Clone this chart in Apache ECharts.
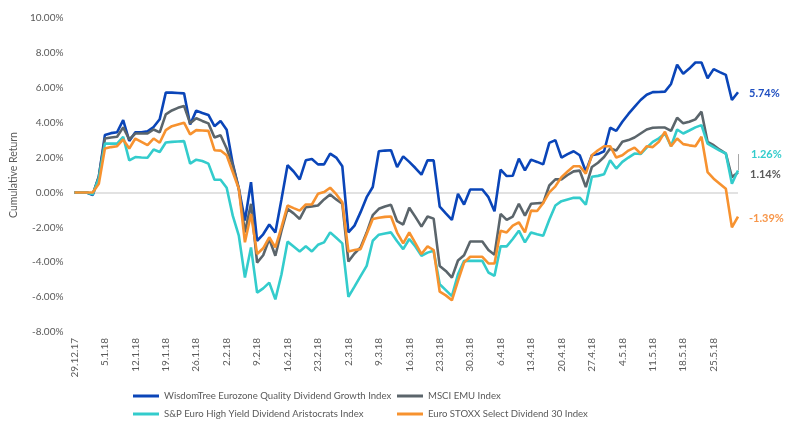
<!DOCTYPE html>
<html>
<head>
<meta charset="utf-8">
<script src="https://cdn.jsdelivr.net/npm/echarts@6/dist/echarts.min.js"></script>
<style>
  html, body { margin: 0; padding: 0; background: #fff; }
  #chart { width: 796px; height: 428px; }
</style>
</head>
<body>
<div id="chart"></div>
<script>
// business days 29.12.17 .. 31.5.18
var categories = [];
for (var d = new Date(2017, 11, 29); categories.length < 110; d.setDate(d.getDate() + 1)) {
  var wd = d.getDay();
  if (wd === 0 || wd === 6) continue;
  categories.push(d.getDate() + '.' + (d.getMonth() + 1) + '.' + String(d.getFullYear()).slice(2));
}

var wisdomTree = [
  0, 0, 0, -0.15, 0.9, 3.3, 3.4, 3.45, 4.15, 2.95,
  3.45, 3.45, 3.5, 3.75, 4.2, 5.72, 5.72, 5.7, 5.68, 3.9,
  4.69, 4.55, 4.44, 3.8, 4.09, 3.6, 1.65, 0.21, -1.61, 0.59,
  -2.77, -2.4, -1.84, -2.29, -0.4, 1.56, 1.2, 0.75, 1.84, 1.92,
  1.61, 1.61, 2.23, 2.0, 1.5, -2.29, -1.9, -1.13, -0.27, 0.31,
  2.36, 2.4, 2.42, 1.45, 2.07, 1.75, 1.4, 1.02, 1.84, 1.84,
  -0.81, -1.2, -1.57, -0.08, -0.69, 0.17, 0.17, 0.17, -0.27, -1.08,
  1.31, 0.94, 0.96, 1.94, 1.27, 1.88, 1.75, 1.61, 2.84, 3.0,
  2.0, 2.2, 2.36, 2.13, 1.2, 2.13, 2.2, 2.36, 3.71, 3.53,
  4.05, 4.5, 4.9, 5.3, 5.6, 5.75, 5.76, 5.78, 6.22, 7.32,
  6.8, 7.1, 7.45, 7.45, 6.55, 7.07, 6.9, 6.74, 5.3, 5.74
];
var msciEmu = [
  0, 0, 0, -0.1, 0.9, 3.09, 3.15, 3.19, 3.73, 3.04,
  3.38, 3.38, 3.38, 3.61, 3.44, 4.48, 4.7, 4.85, 4.96, 3.96,
  4.25, 4.1, 3.96, 3.15, 3.28, 2.52, 1.56, 0.21, -2.29, -0.65,
  -4.02, -3.6, -2.67, -3.63, -2.2, -0.94, -1.2, -1.52, -0.85, -0.8,
  -0.75, -0.4, -0.12, -0.4, -0.65, -3.96, -3.5, -3.15, -2.3, -1.3,
  -0.94, -0.81, -0.71, -1.65, -1.84, -0.88, -1.4, -1.96, -1.38, -1.5,
  -4.21, -4.5, -4.88, -3.9, -3.6, -2.81, -2.81, -2.81, -3.3, -3.57,
  -1.23, -1.57, -1.38, -0.65, -1.33, -0.65, -0.62, -0.6, 0.4, 0.75,
  0.75, 1.0, 1.21, 1.25, 0.31, 1.46, 1.7, 2.03, 2.52, 2.4,
  2.9, 3.0, 3.15, 3.38, 3.61, 3.71, 3.72, 3.72, 3.53, 4.28,
  3.96, 4.05, 4.19, 4.63, 2.9, 2.71, 2.45, 2.23, 0.88, 1.14
];
var spAristocrats = [
  0, 0, 0, -0.1, 0.8, 2.8, 2.8, 2.8, 3.19, 1.84,
  2.03, 2.0, 1.99, 2.46, 2.32, 2.86, 2.9, 2.92, 2.94, 1.65,
  1.88, 1.8, 1.65, 0.73, 0.73, 0.27, -1.33, -2.48, -4.88, -3.15,
  -5.74, -5.5, -5.17, -6.13, -4.7, -2.82, -3.1, -3.38, -3.09, -3.38,
  -3.0, -2.86, -2.29, -2.6, -2.92, -5.99, -5.4, -4.8, -4.21, -2.77,
  -2.42, -2.35, -2.29, -2.8, -3.25, -2.67, -3.1, -3.63, -3.45, -3.34,
  -5.26, -5.6, -5.94, -4.69, -3.92, -3.92, -3.92, -3.92, -4.59, -4.78,
  -3.09, -3.09, -2.67, -2.19, -2.86, -2.29, -2.4, -2.48, -1.57, -0.75,
  -0.5, -0.4, -0.31, -0.3, -0.7, 0.9, 0.95, 1.04, 1.84, 1.37,
  1.75, 2.0, 2.23, 2.2, 2.57, 2.9, 3.1, 3.38, 2.65, 3.61,
  3.38, 3.55, 3.73, 3.86, 2.8, 2.6, 2.4, 2.23, 0.5, 1.26
];
var euroStoxx = [
  0, 0, 0, 0, 0.5, 2.52, 2.6, 2.65, 3.04, 2.52,
  3.09, 2.9, 2.71, 3.09, 2.85, 3.57, 3.8, 3.9, 4.0, 3.33,
  3.57, 3.55, 3.53, 2.42, 2.4, 2.13, 1.17, 0.21, -2.86, -1.23,
  -3.53, -3.2, -2.57, -3.15, -2.0, -0.75, -0.9, -1.04, -0.69, -0.69,
  -0.08, 0.02, 0.27, -0.1, -0.56, -3.38, -3.3, -3.25, -2.38, -1.52,
  -1.45, -1.4, -1.38, -2.3, -2.92, -2.29, -2.9, -3.53, -3.09, -3.3,
  -5.69, -5.9, -6.18, -5.07, -4.02, -3.69, -3.69, -3.69, -4.07, -4.07,
  -2.19, -2.29, -1.9, -1.71, -2.29, -1.04, -1.06, -0.6, 0.0, 0.35,
  0.88, 1.2, 1.5, 1.5, 1.08, 2.13, 2.42, 2.65, 2.65, 2.0,
  2.13, 2.4, 2.57, 2.23, 2.65, 2.6, 2.9, 3.48, 2.65, 3.09,
  2.77, 2.7, 2.65, 3.19, 1.17, 0.79, 0.5, 0.21, -2.0, -1.39
];

var names = [
  'WisdomTree Eurozone Quality Dividend Growth Index',
  'MSCI EMU Index',
  'S&P Euro High Yield Dividend Aristocrats Index',
  'Euro STOXX Select Dividend 30 Index'
];
var colors = ['#0a45b8', '#5b656b', '#33cccc', '#f7922f'];
var labelColors = ['#1f4fc1', '#595959', '#33cccc', '#f7964a'];
var labelOffsets = [[3, 1], [4, 2], [5, -16], [3, 2]];
var seriesData = [wisdomTree, msciEmu, spAristocrats, euroStoxx];

var font = 'Lato, "Open Sans", sans-serif';
var lastCat = categories[categories.length - 1];

var series = seriesData.map(function (data, i) {
  var s = {
    name: names[i],
    type: 'line',
    data: data,
    symbol: 'none',
    lineStyle: { color: colors[i], width: 2.6 },
    itemStyle: { color: colors[i] },
    endLabel: {
      show: true,
      offset: labelOffsets[i],
      fontFamily: font,
      fontSize: 11,
      fontWeight: 'bold',
      color: labelColors[i],
      formatter: function (p) { return p.value.toFixed(2) + '%'; }
    }
  };
  if (i === 2) {
    // leader line to the shifted 1.26% label
    s.markLine = {
      silent: true,
      symbol: 'none',
      label: { show: false },
      lineStyle: { color: '#a6a6a6', width: 1, type: 'solid' },
      data: [[{ coord: [lastCat, data[data.length - 1]] }, { coord: [lastCat, 2.2] }]]
    };
  }
  return s;
});

var legendText = { fontFamily: font, fontSize: 9.6, color: '#595959' };

var chart = echarts.init(document.getElementById('chart'));
chart.setOption({
  animation: false,
  backgroundColor: '#fff',
  grid: { left: 70, right: 58, top: 18, bottom: 96 },
  legend: [
    {
      data: [names[0], names[2]],
      orient: 'vertical',
      left: 128, top: 386,
      itemGap: 8,
      icon: 'rect', itemWidth: 26, itemHeight: 3,
      textStyle: legendText
    },
    {
      data: [names[1], names[3]],
      orient: 'vertical',
      left: 392, top: 386,
      itemGap: 8,
      icon: 'rect', itemWidth: 26, itemHeight: 3,
      textStyle: legendText
    }
  ],
  xAxis: {
    type: 'category',
    data: categories,
    boundaryGap: false,
    axisLine: { show: false },
    axisTick: { show: false },
    axisLabel: {
      interval: 4,
      rotate: 90,
      margin: 6,
      fontFamily: font,
      fontSize: 10,
      color: '#595959'
    },
    splitLine: { show: false }
  },
  yAxis: {
    type: 'value',
    min: -8, max: 10, interval: 2,
    name: 'Cumulative Return',
    nameLocation: 'middle',
    nameGap: 52,
    nameTextStyle: { fontFamily: font, fontSize: 10.5, color: '#595959' },
    axisLine: { show: false },
    axisTick: { show: false },
    axisLabel: {
      margin: 11,
      fontFamily: font,
      fontSize: 10,
      color: '#595959',
      formatter: function (v) { return v.toFixed(2) + '%'; }
    },
    splitLine: {
      show: true,
      lineStyle: {
        width: 1.5,
        color: ['transparent', 'transparent', 'transparent', 'transparent', '#d9d9d9',
                'transparent', 'transparent', 'transparent', 'transparent', 'transparent']
      }
    }
  },
  series: series
});
</script>
</body>
</html>
